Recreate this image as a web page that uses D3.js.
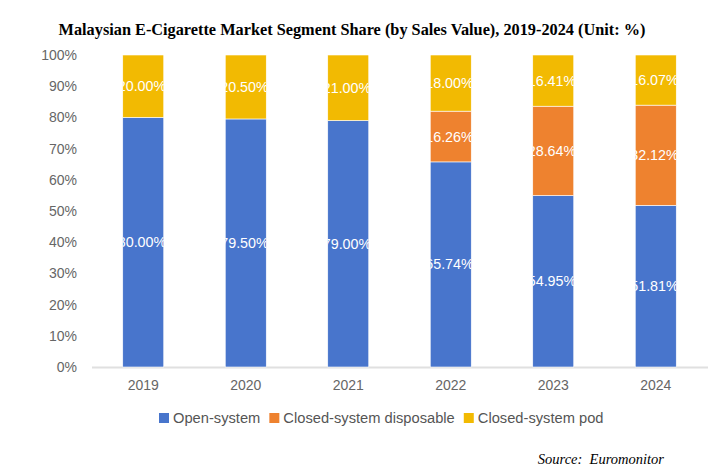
<!DOCTYPE html>
<html>
<head>
<meta charset="utf-8">
<script src="https://cdn.jsdelivr.net/npm/d3@7"></script>
<style>
  body { margin: 0; background: #fff; }
  svg { display: block; }
</style>
</head>
<body>
<svg id="mainsvg" width="716" height="476"></svg>
<script>
// data
const years = ['2019', '2020', '2021', '2022', '2023', '2024']
const openSystem = [80.00, 79.50, 79.00, 65.74, 54.95, 51.81]
const closedDisposable = [0, 0, 0, 16.26, 28.64, 32.12]
const closedPod = [20.00, 20.50, 21.00, 18.00, 16.41, 16.07]
const seriesNames = ['Open-system', 'Closed-system disposable', 'Closed-system pod']
const seriesColors = ['#4875CC', '#EE822F', '#F2BA02']
const yTicks = [0, 10, 20, 30, 40, 50, 60, 70, 80, 90, 100]

const svg = d3.select('#mainsvg')
const width = +svg.attr('width')
const height = +svg.attr('height')
const margin = { top: 55, right: 9, left: 92, bottom: 109 }

const rows = years.map((y, i) => ({
    year: y,
    'Open-system': openSystem[i],
    'Closed-system disposable': closedDisposable[i],
    'Closed-system pod': closedPod[i]
}))
const stacked = d3.stack().keys(seriesNames)(rows)

const x = d3.scaleBand().domain(years)
    .range([margin.left, width - margin.right])
    .paddingInner(0.6).paddingOuter(0.3)
const y = d3.scaleLinear().domain([0, 100])
    .range([height - margin.bottom, margin.top])
const color = d3.scaleOrdinal().domain(seriesNames).range(seriesColors)

// title
svg.append('text')
    .attr('x', 352).attr('y', 35)
    .attr('text-anchor', 'middle')
    .attr('font-family', '"Liberation Serif", "Times New Roman", serif')
    .attr('font-weight', 'bold')
    .attr('font-size', 16.3)
    .attr('fill', '#000')
    .text('Malaysian E-Cigarette Market Segment Share (by Sales Value), 2019-2024 (Unit: %)')

// y axis labels
const yAxis = svg.append('g')
    .attr('transform', `translate(${margin.left - 12}, 0)`)
    .call(d3.axisLeft(y).tickValues(yTicks).tickSize(0).tickFormat(d => d + '%'))
yAxis.select('.domain').remove()
yAxis.selectAll('text')
    .attr('font-family', '"Liberation Sans", Arial, sans-serif')
    .attr('font-size', 14).attr('fill', '#666')

// baseline
svg.append('line')
    .attr('x1', margin.left).attr('x2', width - margin.right + 1)
    .attr('y1', y(0) + 0.5).attr('y2', y(0) + 0.5)
    .attr('stroke', '#e0e0e0').attr('stroke-width', 2)

// x axis labels
const xAxis = svg.append('g')
    .attr('transform', `translate(0, ${y(0) + 10})`)
    .call(d3.axisBottom(x).tickSize(0))
xAxis.select('.domain').remove()
xAxis.selectAll('text')
    .attr('font-family', '"Liberation Sans", Arial, sans-serif')
    .attr('font-size', 14).attr('fill', '#666')

// clip paths, one per bar segment
const defs = svg.append('defs')
const segs = []
stacked.forEach((s, si) => {
    s.forEach((d, i) => {
        if (d[1] - d[0] <= 0) return
        segs.push({ key: s.key, si: si, year: years[i], y0: d[0], y1: d[1], id: `clip-${si}-${i}` })
    })
})
defs.selectAll('clipPath').data(segs).join('clipPath')
    .attr('id', d => d.id)
    .append('rect')
    .attr('x', d => x(d.year))
    .attr('y', d => y(d.y1))
    .attr('width', x.bandwidth())
    .attr('height', d => y(d.y0) - y(d.y1))

const g = svg.append('g')
g.selectAll('rect').data(segs).join('rect')
    .attr('x', d => x(d.year))
    .attr('y', d => y(d.y1))
    .attr('width', x.bandwidth())
    .attr('height', d => y(d.y0) - y(d.y1))
    .attr('fill', d => color(d.key))
    .attr('stroke', '#fff').attr('stroke-width', 0.6)

// value labels, clipped to their bar
g.selectAll('text.val').data(segs).join('text')
    .attr('class', 'val')
    .attr('clip-path', d => `url(#${d.id})`)
    .attr('x', d => x(d.year) + x.bandwidth() + 2.5)
    .attr('y', d => (y(d.y0) + y(d.y1)) / 2)
    .attr('dy', '0.35em')
    .attr('text-anchor', 'end')
    .attr('font-family', '"Liberation Sans", Arial, sans-serif')
    .attr('font-size', 14.3)
    .attr('fill', '#fff')
    .text(d => (d.y1 - d.y0).toFixed(2) + '%')

// legend
const legend = svg.append('g').attr('transform', 'translate(159, 418)')
let lx = 0
seriesNames.forEach(name => {
    const item = legend.append('g').attr('transform', `translate(${lx}, 0)`)
    item.append('rect')
        .attr('x', 0).attr('y', -5)
        .attr('width', 10).attr('height', 10)
        .attr('fill', color(name))
    const t = item.append('text')
        .attr('x', 14).attr('y', 0).attr('dy', '0.35em')
        .attr('font-family', '"Liberation Sans", Arial, sans-serif')
        .attr('font-size', 14.7).attr('fill', '#555')
        .text(name)
    lx += 14 + t.node().getComputedTextLength() + 9
})

// source note
svg.append('text')
    .attr('x', 664).attr('y', 464)
    .attr('text-anchor', 'end')
    .attr('font-family', '"Liberation Serif", "Times New Roman", serif')
    .attr('font-style', 'italic')
    .attr('font-size', 14.5)
    .attr('fill', '#000')
    .attr('xml:space', 'preserve')
    .text('Source:  Euromonitor')
</script>
</body>
</html>
